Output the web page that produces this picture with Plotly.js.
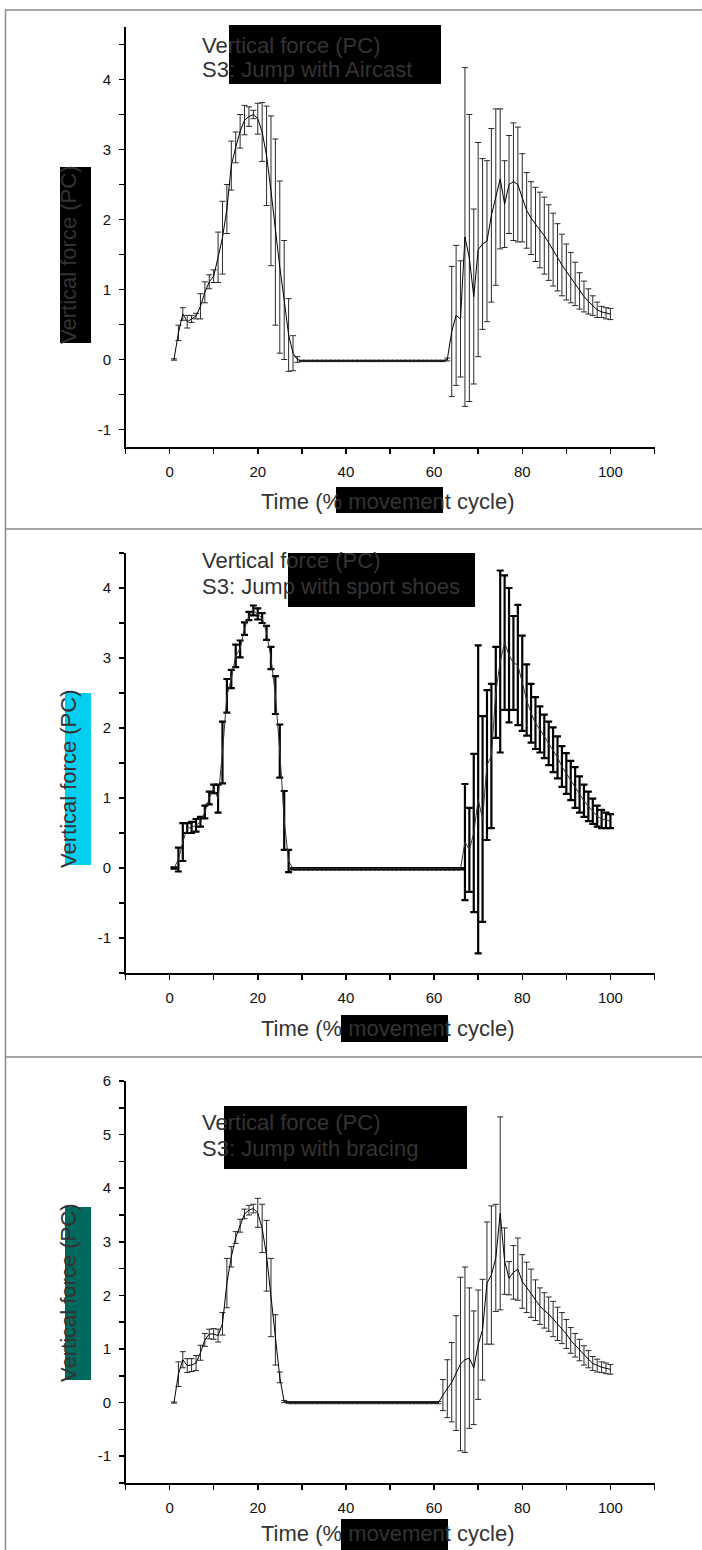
<!DOCTYPE html>
<html><head><meta charset="utf-8">
<script src="https://cdn.plot.ly/plotly-3.0.1.min.js"></script>
<style>html,body{margin:0;padding:0;background:#fff}</style>
</head><body>
<div id="chart" style="width:702px;height:1550px"></div>
<script>
// ---------- DATA ----------
const time = [1,2,3,4,5,6,7,8,9,10,11,12,13,14,15,16,17,18,19,20,
  21,22,23,24,25,26,27,28,29,30,31,32,33,34,35,36,37,38,39,40,
  41,42,43,44,45,46,47,48,49,50,51,52,53,54,55,56,57,58,59,60,
  61,62,63,64,65,66,67,68,69,70,71,72,73,74,75,76,77,78,79,80,
  81,82,83,84,85,86,87,88,89,90,91,92,93,94,95,96,97,98,99,100];

const aircastMean = [0,0.38,0.65,0.54,0.58,0.62,0.76,0.96,1.11,1.19,
  1.46,1.74,2.15,2.77,3.03,3.26,3.42,3.47,3.5,3.44,
  3.25,2.91,2.41,1.82,1.32,0.85,0.35,0.09,0,-0.02,
  -0.02,-0.02,-0.02,-0.02,-0.02,-0.02,-0.02,-0.02,-0.02,-0.02,
  -0.02,-0.02,-0.02,-0.02,-0.02,-0.02,-0.02,-0.02,-0.02,-0.02,
  -0.02,-0.02,-0.02,-0.02,-0.02,-0.02,-0.02,-0.02,-0.02,-0.02,
  -0.02,-0.02,0,0.4,0.63,0.58,1.75,1.45,0.9,1.57,
  1.65,1.69,2.06,2.32,2.58,2.22,2.5,2.54,2.5,2.31,
  2.13,2.02,1.93,1.85,1.77,1.67,1.57,1.46,1.35,1.25,
  1.17,1.08,0.98,0.9,0.83,0.77,0.71,0.68,0.66,0.65];
const aircastSD = [0.01,0.11,0.09,0.09,0.05,0.04,0.18,0.15,0.1,0.09,
  0.36,0.52,0.35,0.35,0.22,0.24,0.21,0.14,0.06,0.22,
  0.42,0.71,1.07,1.33,1.23,0.85,0.52,0.25,0.04,0.01,
  0.01,0.01,0.01,0.01,0.01,0.01,0.01,0.01,0.01,0.01,
  0.01,0.01,0.01,0.01,0.01,0.01,0.01,0.01,0.01,0.01,
  0.01,0.01,0.01,0.01,0.01,0.01,0.01,0.01,0.01,0.01,
  0.01,0.01,0.02,0.93,1.0,0.83,2.42,2.05,1.25,1.53,
  1.22,1.15,1.24,1.26,1.0,0.62,0.7,0.84,0.82,0.63,
  0.54,0.52,0.53,0.54,0.55,0.54,0.52,0.48,0.44,0.4,
  0.36,0.31,0.26,0.22,0.18,0.14,0.11,0.08,0.08,0.08];

const shoesMean = [0,0.12,0.37,0.57,0.58,0.61,0.66,0.8,1.0,1.13,
  0.99,1.65,2.46,2.7,3.03,3.13,3.42,3.6,3.68,3.63,
  3.57,3.36,3.0,2.47,1.67,0.68,0.1,-0.01,-0.01,-0.01,
  -0.01,-0.01,-0.01,-0.01,-0.01,-0.01,-0.01,-0.01,-0.01,-0.01,
  -0.01,-0.01,-0.01,-0.01,-0.01,-0.01,-0.01,-0.01,-0.01,-0.01,
  -0.01,-0.01,-0.01,-0.01,-0.01,-0.01,-0.01,-0.01,-0.01,-0.01,
  -0.01,-0.01,-0.01,-0.01,-0.01,-0.01,0.37,0.26,0.5,0.98,
  0.7,1.47,1.6,2.51,2.95,3.22,3.04,2.93,2.9,2.64,
  2.4,2.21,2.07,1.98,1.88,1.78,1.69,1.58,1.45,1.35,
  1.25,1.15,1.05,0.96,0.88,0.81,0.74,0.7,0.68,0.67];
const shoesSD = [0.01,0.17,0.27,0.07,0.08,0.09,0.07,0.09,0.09,0.06,
  0.2,0.44,0.24,0.13,0.16,0.12,0.09,0.06,0.07,0.08,
  0.07,0.1,0.16,0.27,0.38,0.42,0.16,0.01,0.01,0.01,
  0.01,0.01,0.01,0.01,0.01,0.01,0.01,0.01,0.01,0.01,
  0.01,0.01,0.01,0.01,0.01,0.01,0.01,0.01,0.01,0.01,
  0.01,0.01,0.01,0.01,0.01,0.01,0.01,0.01,0.01,0.01,
  0.01,0.01,0.01,0.01,0.01,0.01,0.83,0.6,1.13,2.2,
  1.47,1.07,1.03,0.65,1.3,0.96,0.96,0.67,0.86,0.68,
  0.51,0.42,0.37,0.33,0.31,0.31,0.32,0.3,0.29,0.29,
  0.28,0.29,0.26,0.23,0.21,0.18,0.15,0.13,0.11,0.1];

const bracingMean = [0,0.53,0.8,0.69,0.7,0.74,0.93,1.17,1.28,1.28,
  1.25,1.47,2.23,2.72,3.08,3.3,3.52,3.59,3.62,3.54,
  3.25,2.74,1.96,1.17,0.47,0.02,0,0,0,0,
  0,0,0,0,0,0,0,0,0,0,
  0,0,0,0,0,0,0,0,0,0,
  0,0,0,0,0,0,0,0,0,0,
  0,0.14,0.26,0.38,0.55,0.72,0.8,0.83,0.65,1.08,
  1.36,2.23,2.38,2.7,3.53,2.64,2.32,2.43,2.49,2.26,
  2.15,2.04,1.91,1.8,1.72,1.65,1.56,1.47,1.39,1.28,
  1.16,1.07,0.98,0.88,0.81,0.73,0.69,0.66,0.64,0.62];
const bracingSD = [0.01,0.23,0.15,0.13,0.12,0.14,0.14,0.12,0.09,0.1,
  0.12,0.21,0.46,0.19,0.11,0.12,0.09,0.09,0.08,0.27,
  0.45,0.66,0.73,0.47,0.1,0.02,0.02,0.02,0.02,0.02,
  0.02,0.02,0.02,0.02,0.02,0.02,0.02,0.02,0.02,0.02,
  0.02,0.02,0.02,0.02,0.02,0.02,0.02,0.02,0.02,0.02,
  0.02,0.02,0.02,0.02,0.02,0.02,0.02,0.02,0.02,0.02,
  0.02,0.29,0.54,0.74,1.07,1.62,1.73,1.31,1.06,1.02,
  0.94,1.14,1.29,1.0,1.8,0.62,0.31,0.5,0.58,0.5,
  0.47,0.45,0.38,0.34,0.33,0.32,0.33,0.31,0.29,0.27,
  0.24,0.22,0.2,0.18,0.16,0.13,0.12,0.1,0.1,0.09];

const headerLine = 'Vertical force (PC)';
const panelNames = ['S3: Jump with Aircast', 'S3: Jump with sport shoes', 'S3: Jump with bracing'];
const yTitleText = 'Vertical force (PC)';
const xTitleText = 'Time (% movement cycle)';
const xTickVals = [0, 20, 40, 60, 80, 100];
const xTickText = ['0', '20', '40', '60', '80', '100'];
const yTickVals12 = [-1, 0, 1, 2, 3, 4];
const yTickText12 = ['-1', '0', '1', '2', '3', '4'];
const yTickVals3 = [-1, 0, 1, 2, 3, 4, 5, 6];
const yTickText3 = ['-1', '0', '1', '2', '3', '4', '5', '6'];

// ---------- LAYOUT HELPERS (pixel geometry) ----------
const W = 702, H = 1550;
const px = v => v / W;
const py = v => 1 - v / H;
const FONT = 'Liberation Sans, Arial, Helvetica, sans-serif';

const panels = [
  {mean: aircastMean, sd: aircastSD, top: 27, bottom: 447, yr: [-1.25, 4.75], tv: yTickVals12, tt: yTickText12,
   lineColor: '#000', barColor: '#2a2a2a', barThick: 1, capW: 3,
   titleY: [45, 69.5], titleBox: [229, 25, 441, 84],
   yTitleY: 255, yBox: [60, 167, 91, 343], yBoxColor: '#000',
   xTitleY: 500, xBox: [336, 487, 443, 513]},
  {mean: shoesMean, sd: shoesSD, top: 553, bottom: 973, yr: [-1.5, 4.5], tv: yTickVals12, tt: yTickText12,
   lineColor: '#333', barColor: '#000', barThick: 2.2, capW: 3.5,
   titleY: [560, 586], titleBox: [288, 553, 475, 607],
   yTitleY: 779, yBox: [65, 693, 91, 865], yBoxColor: '#00CFEF',
   xTitleY: 1027, xBox: [341, 1015, 448, 1042]},
  {mean: bracingMean, sd: bracingSD, top: 1081, bottom: 1483, yr: [-1.5, 6], tv: yTickVals3, tt: yTickText3,
   lineColor: '#000', barColor: '#2a2a2a', barThick: 1, capW: 3,
   titleY: [1122.5, 1148.5], titleBox: [224, 1106, 467, 1169],
   yTitleY: 1293, yBox: [65, 1207, 91, 1380], yBoxColor: '#00695E',
   xTitleY: 1532, xBox: [341, 1519, 448, 1551]}
];

const data = [];
const layout = {
  width: W, height: H, margin: {l: 0, r: 0, t: 0, b: 0},
  paper_bgcolor: '#fff', plot_bgcolor: 'rgba(0,0,0,0)',
  showlegend: false, shapes: [], annotations: [],
  font: {family: FONT, color: '#000'}
};

panels.forEach((p, i) => {
  const n = i === 0 ? '' : String(i + 1);
  data.push({
    x: time, y: p.mean, xaxis: 'x' + n, yaxis: 'y' + n,
    type: 'scatter', mode: 'lines',
    line: {color: p.lineColor, width: 1},
    error_y: {type: 'data', array: p.sd, visible: true, color: p.barColor, thickness: p.barThick, width: p.capW},
    hoverinfo: 'skip'
  });
  layout['xaxis' + n] = {
    domain: [px(125.5), px(654.5)], range: [-10, 110], anchor: 'y' + n,
    showline: true, linecolor: '#000', linewidth: 1.5,
    ticks: 'outside', ticklen: 5, tickwidth: 1.5, tickcolor: '#000',
    tickmode: 'array', tickvals: xTickVals, ticktext: xTickText,
    minor: {tickmode: 'linear', tick0: 0, dtick: 10, ticks: 'outside', ticklen: 5, tickwidth: 1.5, tickcolor: '#000', showgrid: false},
    showgrid: false, zeroline: false, ticklabelstandoff: 5,
    tickfont: {family: FONT, size: 15, color: '#111'}, fixedrange: true
  };
  layout['yaxis' + n] = {
    domain: [py(p.bottom), py(p.top)], range: p.yr, anchor: 'x' + n,
    showline: true, linecolor: '#000', linewidth: 1.5,
    ticks: 'outside', ticklen: 5, tickwidth: 1.5, tickcolor: '#000',
    tickmode: 'array', tickvals: p.tv, ticktext: p.tt,
    minor: {tickmode: 'linear', tick0: 0, dtick: 0.5, ticks: 'outside', ticklen: 5, tickwidth: 1.5, tickcolor: '#000', showgrid: false},
    showgrid: false, zeroline: false, ticklabelstandoff: 5,
    tickfont: {family: FONT, size: 15, color: '#111'}, fixedrange: true
  };
  // boxes
  const rect = (b, color) => ({type: 'rect', xref: 'paper', yref: 'paper', layer: 'above',
    x0: px(b[0]), y0: py(b[1]), x1: px(b[2]), y1: py(b[3]), fillcolor: color, line: {width: 0}});
  layout.shapes.push(rect(p.titleBox, '#000'));
  layout.shapes.push(rect(p.yBox, p.yBoxColor));
  layout.shapes.push(rect(p.xBox, '#000'));
  // texts
  const tf = {family: FONT, size: 22, color: '#333'};
  layout.annotations.push({xref: 'paper', yref: 'paper', x: px(200), y: py(p.titleY[0]), xanchor: 'left', yanchor: 'middle',
    text: headerLine, showarrow: false, font: tf});
  layout.annotations.push({xref: 'paper', yref: 'paper', x: px(200), y: py(p.titleY[1]), xanchor: 'left', yanchor: 'middle',
    text: panelNames[i], showarrow: false, font: tf});
  layout.annotations.push({xref: 'paper', yref: 'paper', x: px(68), y: py(p.yTitleY), xanchor: 'center', yanchor: 'middle',
    text: yTitleText, textangle: -90, showarrow: false, font: tf});
  layout.annotations.push({xref: 'paper', yref: 'paper', x: px(387), y: py(p.xTitleY + 1), xanchor: 'center', yanchor: 'middle',
    text: xTitleText, showarrow: false, font: tf});
});

// panel frame lines
const frame = (x0, y0, x1, y1) => ({type: 'line', xref: 'paper', yref: 'paper', layer: 'above',
  x0: px(x0), y0: py(y0), x1: px(x1), y1: py(y1), line: {color: '#8a8a8a', width: 1.5}});
layout.shapes.push(frame(5.5, 10, 5.5, 1550));
layout.shapes.push(frame(5, 10, 702, 10));
layout.shapes.push(frame(5, 529, 702, 529));
layout.shapes.push(frame(5, 1057, 702, 1057));

Plotly.newPlot('chart', data, layout, {staticPlot: true, displayModeBar: false});
</script>
</body></html>
